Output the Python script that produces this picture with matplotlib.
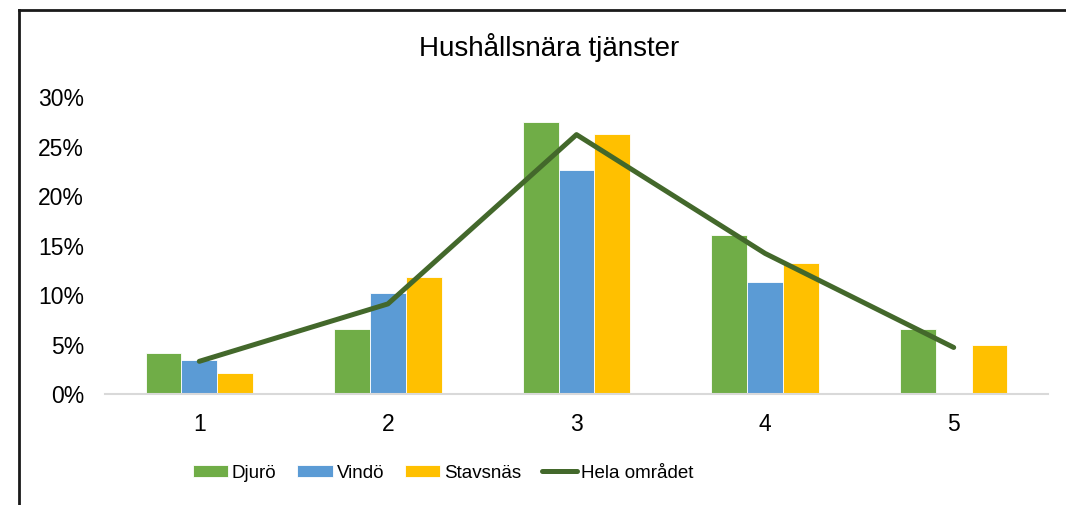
import numpy as np
import matplotlib.pyplot as plt
from matplotlib.lines import Line2D

plt.rcParams['font.family'] = ['Liberation Sans', 'DejaVu Sans']

categories = ['1', '2', '3', '4', '5']
djuro = [4.1, 6.6, 27.5, 16.1, 6.6]
vindo = [3.4, 10.2, 22.6, 11.3, 0.0]
stavsnas = [2.1, 11.8, 26.3, 13.2, 4.9]
hela = [3.3, 9.1, 26.2, 14.2, 4.7]

fig = plt.figure(figsize=(10.66, 5.05), dpi=100)
ax = fig.add_axes([105 / 1066, 1 - 394 / 505, 943 / 1066, 297 / 505])

x = np.arange(len(categories))
w = 0.19
ax.bar(x - w, djuro, w, color='#70AD47', edgecolor='white', linewidth=0.6, label='Djurö')
ax.bar(x, vindo, w, color='#5B9BD5', edgecolor='white', linewidth=0.6, label='Vindö')
ax.bar(x + w, stavsnas, w, color='#FFC000', edgecolor='white', linewidth=0.6, label='Stavsnäs')
ax.plot(x, hela, color='#43682B', linewidth=3.6, solid_capstyle='round', label='Hela området')

ax.set_xlim(-0.5, len(categories) - 0.5)
ax.set_ylim(0, 30)
ax.set_yticks(range(0, 31, 5))
ax.set_yticklabels([f'{v}%' for v in range(0, 31, 5)])
ax.set_xticks(x)
ax.set_xticklabels(categories)
ax.tick_params(length=0, labelsize=16.5, colors='#000000')
ax.tick_params(axis='y', pad=15)
ax.tick_params(axis='x', pad=14)
for s in ['top', 'right', 'left']:
    ax.spines[s].set_visible(False)
ax.spines['bottom'].set_color('#D9D9D9')
ax.spines['bottom'].set_linewidth(1.5)

fig.text(549 / 1066, 1 - 48 / 505, 'Hushållsnära tjänster', ha='center', va='center', fontsize=20)

handles, labels = ax.get_legend_handles_labels()
order = [1, 2, 3, 0]
fig.legend([handles[i] for i in order], [labels[i] for i in order], loc='center',
           bbox_to_anchor=(443 / 1066, 1 - 473 / 505), ncol=4, frameon=False, fontsize=13.5,
           handlelength=1.9, handletextpad=0.2, columnspacing=1.1, handleheight=0.65)

# chart frame
fig.add_artist(Line2D([19 / 1066, 19 / 1066], [0, 1 - 10 / 505], color='#1a1a1a', linewidth=2))
fig.add_artist(Line2D([19 / 1066, 1], [1 - 10 / 505, 1 - 10 / 505], color='#1a1a1a', linewidth=2))

fig.savefig('out.png', dpi=100)
